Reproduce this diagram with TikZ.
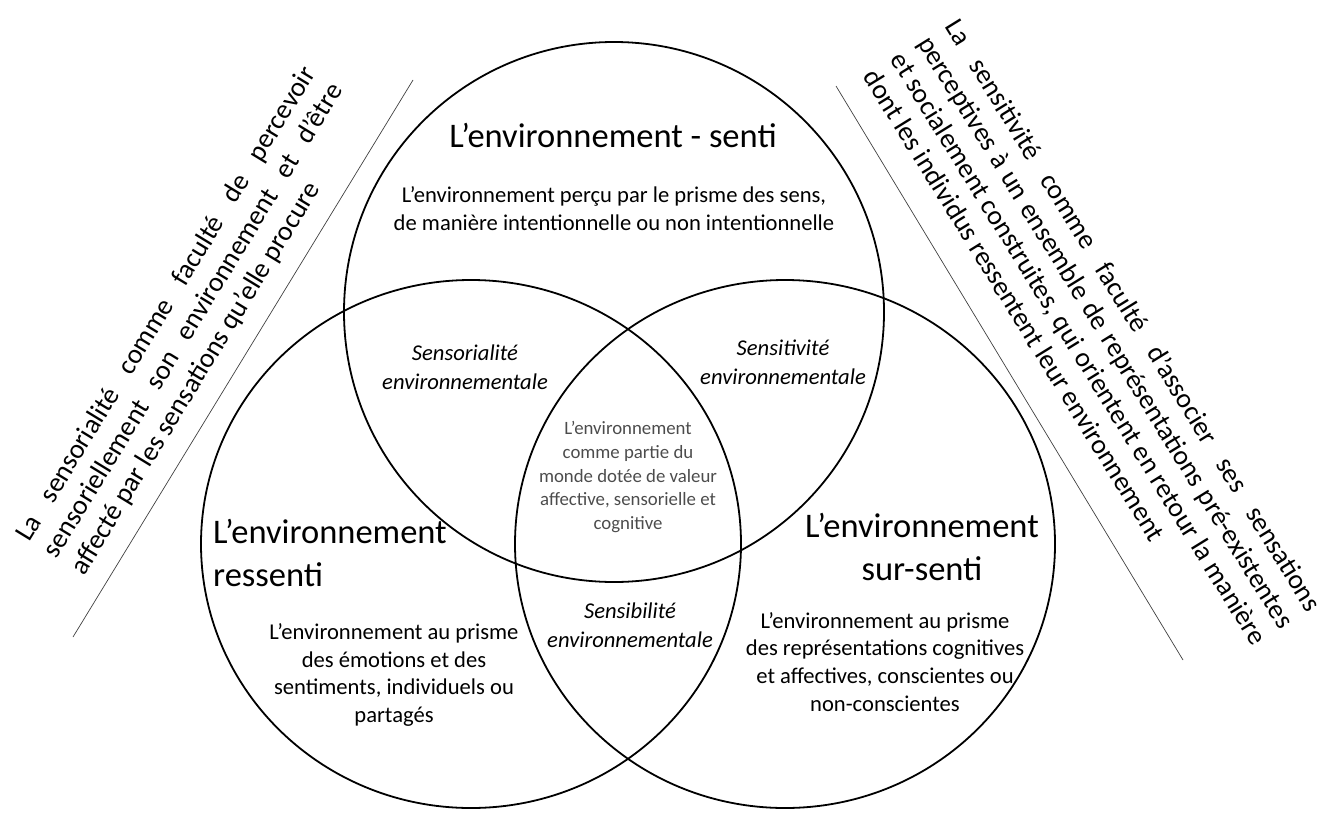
\documentclass[tikz,border=0pt]{standalone}
\usepackage{fontspec}
\setmainfont{Carlito}
\begin{document}
\begin{tikzpicture}[x=1pt,y=-1pt,
  circ/.style={draw, line width=1.8pt},
  sepline/.style={draw, line width=0.7pt, black!75},
  head/.style={font=\fontsize{34.5}{43}\selectfont, inner sep=0pt},
  body/.style={font=\fontsize{22.6}{27.8}\selectfont, align=center, inner sep=0pt},
  ital/.style={font=\fontsize{22.6}{29}\selectfont\itshape, align=center, inner sep=0pt},
  small/.style={font=\fontsize{18.8}{23.8}\selectfont, align=center, text=black!70, inner sep=0pt},
  side/.style={font=\fontsize{27.5}{32}\selectfont, align=justify, inner sep=0pt}
]
\useasboundingbox (0,0) rectangle (1329,827);
% circles
\draw[circ] (614,312) circle [radius=270];
\draw[circ] (471,544) ellipse [x radius=270, y radius=264];
\draw[circ] (785,544) ellipse [x radius=270, y radius=264];
% separator lines
\coordinate (la) at (413,80);
\coordinate (lb) at (73,637);
\coordinate (ra) at (836,86);
\coordinate (rb) at (1183,660);
\draw[sepline] (la) -- (lb);
\draw[sepline] (ra) -- (rb);
% headings
\node[head] (hsenti) at (613,135) {L’environnement - senti};
\node[head, align=left, anchor=west] (hres) at (213,553) {L’environnement\\ressenti};
\node[head, align=center] (hsur) at (922,547) {L’environnement\\sur-senti};
% bodies
\node[body] (bsenti) at (614,209) {L’environnement perçu par le prisme des sens,\\de manière intentionnelle ou non intentionnelle};
\node[body] (bres) at (394,675) {L’environnement au prisme\\des émotions et des\\sentiments, individuels ou\\partagés};
\node[body] (bsur) at (885,662) {L’environnement au prisme\\des représentations cognitives\\et affectives, conscientes ou\\non-conscientes};
% intersections
\node[ital] (isens) at (465,367) {Sensorialité\\environnementale};
\node[ital] (isensit) at (783,362) {Sensitivité\\environnementale};
\node[ital] (isensib) at (630,625) {Sensibilité\\environnementale};
\node[small] (center) at (628,477) {L’environnement\\comme partie du\\monde dotée de valeur\\affective, sensorielle et\\cognitive};
% side texts
\node[side, text width=550pt, rotate=58.6] (tleft) at (194,321) {La sensorialité comme faculté de percevoir\linebreak sensoriellement son environnement et d’être\linebreak affecté par les sensations qu’elle procure};
\node[side, text width=690pt, rotate=-58.3] (tright) at (1093,340) {La sensitivité comme faculté d’associer ses sensations\linebreak perceptives à un ensemble de représentations pré-existentes\linebreak et socialement construites, qui orientent en retour la manière\linebreak dont les individus ressentent leur environnement};
\end{tikzpicture}
\end{document}
